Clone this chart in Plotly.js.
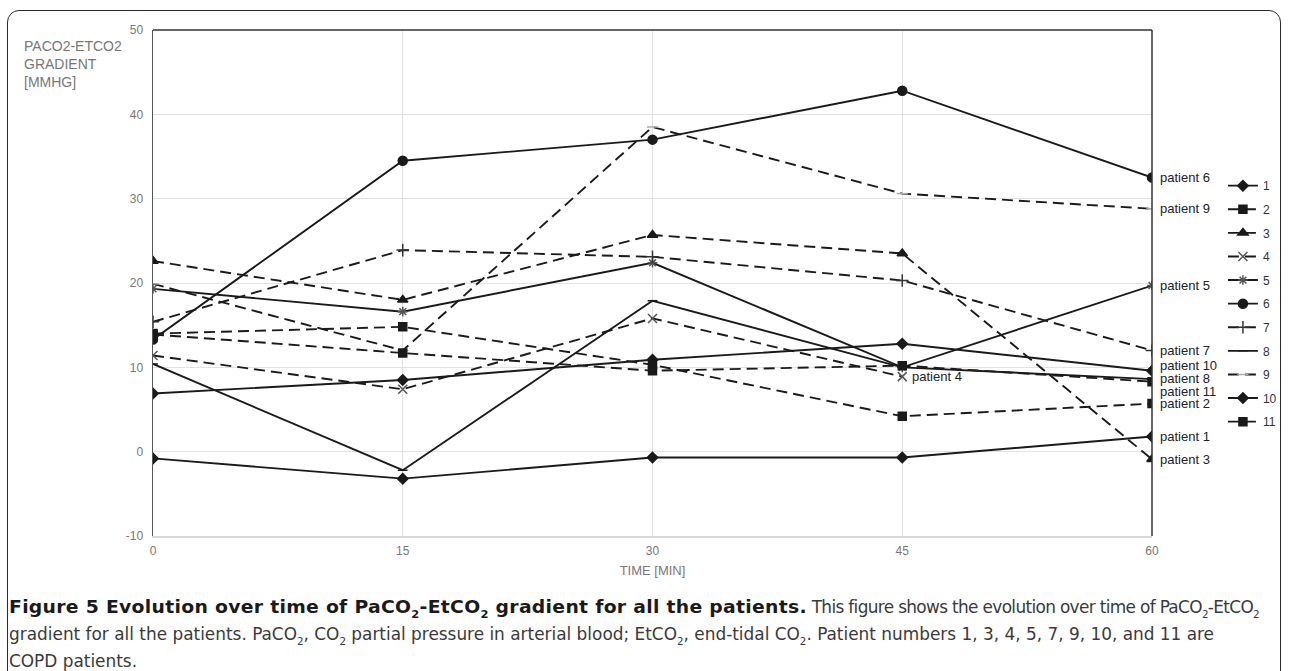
<!DOCTYPE html>
<html>
<head>
<meta charset="utf-8">
<script src="https://cdn.plot.ly/plotly-3.0.1.min.js"></script>
<style>
  html, body { margin:0; padding:0; background:#fff; width:1290px; height:671px; overflow:hidden; }
  #frame { position:absolute; left:7px; top:10px; width:1274px; height:700px; border:1.6px solid #2a2a2a; border-radius:12px; box-sizing:border-box; }
  #chart { position:absolute; left:0; top:0; width:1290px; height:671px; }
  #caption { position:absolute; left:9px; top:593px; font-family:"DejaVu Sans Condensed","Liberation Sans Narrow",sans-serif; font-size:18px; line-height:27px; color:#3a3a3a; transform-origin:0 0; white-space:nowrap; }
  #caption .ln { display:block; }
  #caption b { color:#1a1a1a; font-family:"DejaVu Sans","Liberation Sans",sans-serif; }
  #caption sub { font-size:11px; line-height:0; }
</style>
</head>
<body>
<div id="frame"></div>
<div id="chart"></div>
<div id="caption"><span class="ln"><b id="bold1">Figure 5 Evolution over time of PaCO<sub>2</sub>-EtCO<sub>2</sub> gradient for all the patients.</b><span id="norm1"> This figure shows the evolution over time of PaCO<sub>2</sub>-EtCO<sub>2</sub></span></span><span class="ln"><span id="ln2">gradient for all the patients. PaCO<sub>2</sub>, CO<sub>2</sub> partial pressure in arterial blood; EtCO<sub>2</sub>, end-tidal CO<sub>2</sub>. Patient numbers 1, 3, 4, 5, 7, 9, 10, and 11 are</span></span><span class="ln"><span id="ln3">COPD patients.</span></span></div>
<script>
// Time points (min)
const times = [0, 15, 30, 45, 60];
const tickVals = [0, 15, 30, 45, 60];
const yTicks = [-10, 0, 10, 20, 30, 40, 50];

// PaCO2-EtCO2 gradient (mmHg) per patient
const p1  = [-0.8, -3.2, -0.7, -0.7, 1.8];
const p2  = [14.0, 14.8, 10.3, 4.2, 5.7];
const p3  = [22.6, 18.0, 25.7, 23.5, -0.9];
const p4  = [11.4, 7.4, 15.8, 8.9, null];
const p5  = [19.3, 16.6, 22.4, 10.0, 19.7];
const p6  = [13.3, 34.5, 37.0, 42.8, 32.5];
const p7  = [15.4, 23.9, 23.1, 20.3, 12.0];
const p8  = [10.4, -2.2, 17.9, 10.0, 8.6];
const p9  = [19.9, 12.0, 38.5, 30.6, 28.8];
const p10 = [6.9, 8.5, 10.9, 12.8, 9.6];
const p11 = [13.9, 11.7, 9.6, 10.2, 8.3];

const seriesNames = ["1","2","3","4","5","6","7","8","9","10","11"];
const seriesData = [p1,p2,p3,p4,p5,p6,p7,p8,p9,p10,p11];
const labelTexts = ["patient 1","patient 2","patient 3","patient 4","patient 5","patient 6","patient 7","patient 8","patient 9","patient 10","patient 11"];

// styles
const DASH = "11px,6px";
const dashes  = ["solid",DASH,DASH,DASH,"solid","solid",DASH,"solid",DASH,"solid",DASH];
const symbols = ["diamond","square","triangle-up","x-thin-open","asterisk-open","circle","cross-thin-open","line-ew-open","line-ew-open","diamond","square"];
const msizes  = [8,8,9,9,8,9,9,7,8,8,8];
const mcolors = ["#1a1a1a","#1a1a1a","#1a1a1a","#555","#555","#1a1a1a","#333","#1a1a1a","#aaa","#1a1a1a","#1a1a1a"];
const labelShift = [0,0,0,0,0,0,0,1,0,5,-10];

const traces = seriesData.map((d,i)=>({
  x: times, y: d, name: seriesNames[i], type:'scatter', mode:'lines+markers',
  legendgroup: 'g'+i,
  line:{color:'#1a1a1a', width:1.9, dash:dashes[i]},
  marker:{symbol:symbols[i], size:msizes[i], color:mcolors[i], line:{color:mcolors[i], width:1.5}},
  connectgaps:false
}));

const annotations = seriesData.map((d,i)=>{
  let k = d.length-1; while (d[k]===null) k--;
  return {x: times[k], y: d[k], xref:'x', yref:'y', text: labelTexts[i], showarrow:false,
    xanchor:'left', yanchor:'middle', xshift: (k===4?6:8), yshift: labelShift[i],
    font:{family:'Liberation Sans, Arial, sans-serif', size:13, color:'#222'}};
});
annotations.push({xref:'paper', yref:'paper', x:-0.131, y:1, xanchor:'left', yanchor:'top', yshift:-6,
  align:'left', showarrow:false, text:'PACO2-ETCO2<br>GRADIENT<br>[MMHG]',
  font:{family:'Liberation Sans, Arial, sans-serif', size:14, color:'#777'}});

const layout = {
  width:1290, height:671,
  margin:{l:153, r:138, t:30, b:135, autoexpand:false},
  paper_bgcolor:'rgba(0,0,0,0)', plot_bgcolor:'#fff',
  showlegend:true,
  legend:{x:1.071, y:0.721, xanchor:'left', yanchor:'top', tracegroupgap:4.6,
    font:{family:'Liberation Sans, Arial, sans-serif', size:12, color:'#333'}, bgcolor:'rgba(0,0,0,0)'},
  xaxis:{range:[0,60], tickvals:tickVals, ticktext:tickVals.map(String), showgrid:true, gridcolor:'#e2e2e2', gridwidth:1,
    zeroline:false, showline:true, linecolor:'#d8d8d8', linewidth:2, ticks:'', ticklabelstandoff:3,
    tickfont:{family:'Liberation Sans, Arial, sans-serif', size:12, color:'#777'},
    title:{text:'TIME [MIN]', font:{family:'Liberation Sans, Arial, sans-serif', size:13, color:'#777'}, standoff:8}},
  yaxis:{range:[-10,50], tickvals:yTicks, ticktext:yTicks.map(String), showgrid:true, gridcolor:'#e2e2e2', gridwidth:1,
    zeroline:false, showline:true, linecolor:'#555', linewidth:1.5, ticks:'', ticklen:0, ticklabelstandoff:6,
    tickfont:{family:'Liberation Sans, Arial, sans-serif', size:12, color:'#777'}},
  shapes:[
    {type:'line', xref:'paper', yref:'paper', x0:0, x1:1, y0:1, y1:1, line:{color:'#333', width:1.5}},
    {type:'line', xref:'paper', yref:'paper', x0:1, x1:1, y0:0, y1:1, line:{color:'#333', width:1.5}}
  ],
  annotations: annotations
};

Plotly.newPlot('chart', traces, layout, {displayModeBar:false, staticPlot:true});

// fit caption segments to the reference's widths
(function(){
  const cap = document.getElementById('caption');
  const w2 = document.getElementById('ln2').getBoundingClientRect().width;
  const s = 1205 / w2;               // overall horizontal scale
  function fit(id, target){
    const el = document.getElementById(id);
    const w = el.getBoundingClientRect().width;
    const n = el.textContent.length;
    el.style.letterSpacing = ((target / s - w) / n) + 'px';
  }
  fit('bold1', 798);
  fit('norm1', 452);
  cap.style.transform = 'scaleX(' + s + ')';
})();
</script>
</body>
</html>
